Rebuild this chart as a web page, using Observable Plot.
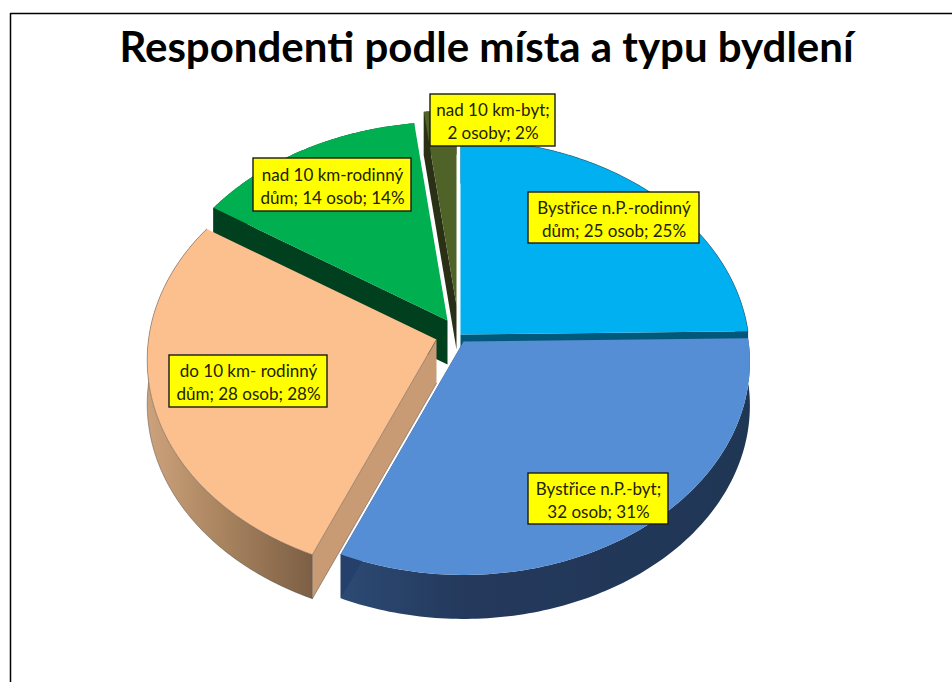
<!DOCTYPE html>
<html><head><meta charset="utf-8">
<script src="https://cdn.jsdelivr.net/npm/d3@7"></script>
<script src="https://cdn.jsdelivr.net/npm/@observablehq/plot@0.6"></script>
<style>html,body{margin:0;padding:0;background:#fff}svg{display:block}</style>
</head><body><div id="chart"></div>
<script>
const titleText = "Respondenti podle místa a typu bydlení";
const categories = ["Bystřice n.P.-rodinný dům","Bystřice n.P.-byt","do 10 km- rodinný dům","nad 10 km-rodinný dům","nad 10 km-byt"];
const values = [25,32,28,14,2];
const labelLines = [
  "Bystřice n.P.-rodinný\ndům; 25 osob; 25%",
  "Bystřice n.P.-byt;\n32 osob; 31%",
  "do 10 km- rodinný\ndům; 28 osob; 28%",
  "nad 10 km-rodinný\ndům; 14 osob; 14%",
  "nad 10 km-byt;\n2 osoby; 2%"
];
// styles and layout, per slice
const topColors  = ["#00b0f0","#558ed5","#fcc08f","#00b050","#4f6228"];
const sideColors = ["url(#gSky)","url(#gBlue)","url(#gPeach)","#00401f","#2a3015"];
const faceColors = ["#00597a","#25406a","#c99b74","#00401f","#2a3015"];
const visibleFace = ["endAngle","endAngle","startAngle","startAngle","startAngle"];
const apexX = [460,463,436,447,456];
const apexY = [334,341,339,320,305];
const radius = [1,0.99,1,1.02,1];
const boxX1 = [528,528,169,253,430];
const boxX2 = [699,668,327,411,555];
const boxY1 = [192,473,355,158,94];
const boxY2 = [243,524,407,211,146];
const drawOrder = [4,3,0,2,1];
const rx = 288, ry = 213.6, k = 0.095, depth = 44;

const arcs = d3.pie().sort(null).startAngle(0).endAngle(2*Math.PI)(values);
const project = (a,i,dz=0) => {
  const r = radius[i], u = Math.sin(a)*r, v = -Math.cos(a)*r, w = 1/(1-k*v);
  return {x: apexX[i]+rx*u*w, y: apexY[i]+ry*v*w+dz};
};
const arcPts = (i,dz=0) => d3.range(0,121).map(t => project(arcs[i].startAngle+(arcs[i].endAngle-arcs[i].startAngle)*t/120,i,dz));
const apex = (i,dz=0) => ({x:apexX[i],y:apexY[i]+dz});
const topFace = i => [apex(i),...arcPts(i)];
const rim = i => [...arcPts(i),...arcPts(i,depth).reverse()];
const face = (i,a) => [apex(i),project(a,i),project(a,i,depth),apex(i,depth)];

const defs = () => {
  const d = d3.create("svg:defs");
  const grad = (id,stops) => {
    const g = d.append("linearGradient").attr("id",id).attr("x1",0).attr("x2",1).attr("y1",0).attr("y2",0);
    stops.forEach(([o,c]) => g.append("stop").attr("offset",o).attr("stop-color",c));
  };
  grad("gSky",[[0,"#00597a"],[1,"#00597a"]]);
  grad("gBlue",[[0,"#2c4a74"],[0.3,"#24395c"],[1,"#203655"]]);
  grad("gPeach",[[0,"#cca27c"],[0.45,"#a9845f"],[1,"#7d5f45"]]);
  return d.node();
};

const edge = {stroke:"#3a3a3a",strokeWidth:0.6,strokeOpacity:0.7};
const pieMarks = drawOrder.flatMap(i => {
  const marks = [
    Plot.line(rim(i),{x:"x",y:"y",fill:sideColors[i],stroke:"none"}),
    Plot.line(face(i,arcs[i][visibleFace[i]]),{x:"x",y:"y",fill:faceColors[i],stroke:"none"})
  ];
  if (i===2) {
    marks.push(Plot.line(arcPts(2,depth),{x:"x",y:"y",...edge}));
    marks.push(Plot.line(face(2,arcs[2].startAngle).slice(1),{x:"x",y:"y",...edge}));
  }
  marks.push(Plot.line(topFace(i),{x:"x",y:"y",fill:topColors[i],stroke:"none"}));
  if (i===0) marks.push(Plot.line(arcPts(0),{x:"x",y:"y",...edge}));
  if (i===2) marks.push(Plot.line([apex(2),...arcPts(2)],{x:"x",y:"y",...edge}));
  return marks;
});

const labels = categories.map((c,i) => ({c,text:labelLines[i],x1:boxX1[i],x2:boxX2[i],y1:boxY1[i],y2:boxY2[i]}));
const border = [{x:10,y:682},{x:10,y:13},{x:952,y:13}];

const chart = Plot.plot({
  width:952,height:682,margin:0,
  x:{domain:[0,952],range:[0,952],axis:null},
  y:{domain:[0,682],range:[0,682],axis:null},
  style:{background:"#fff"},
  marks:[
    defs,
    Plot.line(border,{x:"x",y:"y",stroke:"#000",strokeWidth:1.5}),
    Plot.text([titleText],{x:486,y:48,text:d=>d,fontFamily:"Lato",fontWeight:700,fontSize:42,fill:"#000"}),
    ...pieMarks,
    Plot.rect(labels,{x1:"x1",x2:"x2",y1:"y1",y2:"y2",fill:"#ffff00",stroke:"#1a1a1a",strokeWidth:1.4}),
    Plot.text(labels,{x:d=>(d.x1+d.x2)/2,y:d=>(d.y1+d.y2)/2,text:"text",fontFamily:"Lato",fontSize:17,lineHeight:1.35,fill:"#222200"})
  ]
});
document.getElementById("chart").appendChild(chart);
</script></body></html>
